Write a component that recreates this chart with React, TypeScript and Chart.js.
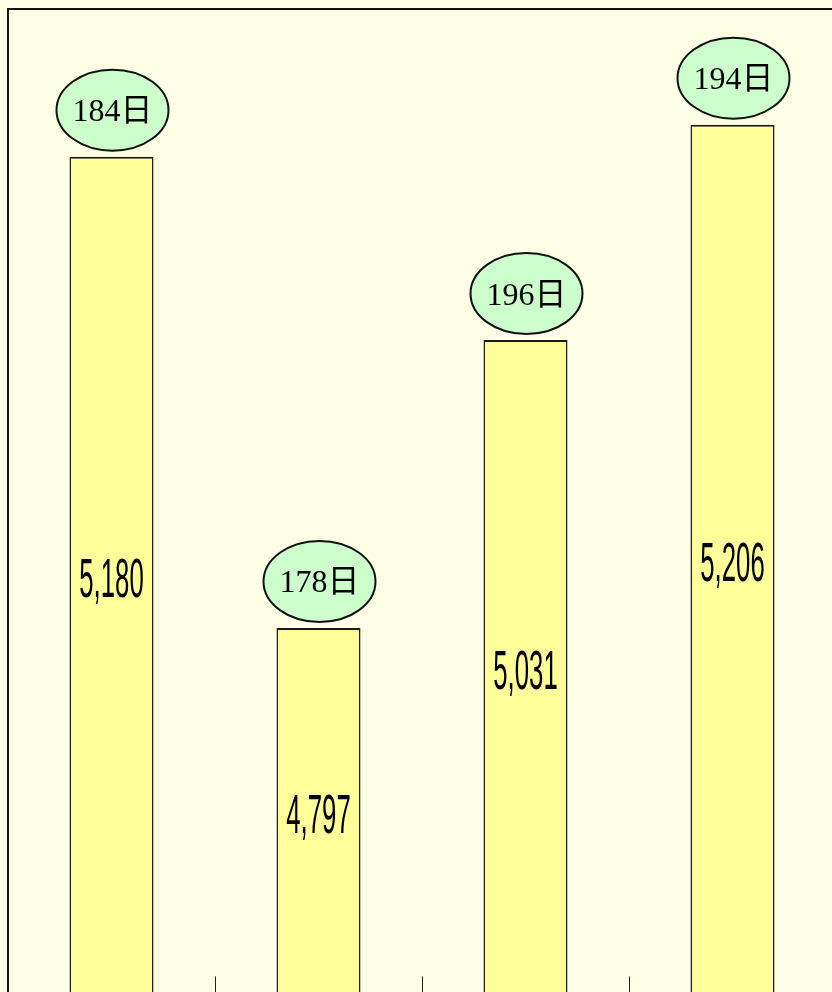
import React, { useEffect, useRef } from "react";
import { Chart, registerables } from "chart.js";

Chart.register(...registerables);

const categories = ["1", "2", "3", "4"];
const visitors = [5180, 4797, 5031, 5206];
const days = [184, 178, 196, 194];
const axisMin = 4500;
const axisMax = 5300;

const BG = "#FFFFE6";

const fmt = (v: number) => String(v).replace(/\B(?=(\d{3})+(?!\d))/g, ",");

const framePlugin = {
  id: "frame",
  beforeDraw(chart: any) {
    const { ctx, width, height } = chart;
    ctx.save();
    ctx.fillStyle = BG;
    ctx.fillRect(0, 0, width, height);
    ctx.restore();
  },
  afterDraw(chart: any) {
    const { ctx, chartArea } = chart;
    ctx.save();
    ctx.strokeStyle = "#111";
    ctx.lineWidth = 2;
    ctx.strokeRect(chartArea.left, chartArea.top, chartArea.right - chartArea.left, chartArea.bottom - chartArea.top);
    ctx.restore();
  },
};

const ticksPlugin = {
  id: "innerTicks",
  afterDatasetsDraw(chart: any) {
    const { ctx, chartArea } = chart;
    const xs = chart.scales.x;
    ctx.save();
    ctx.strokeStyle = "#222";
    ctx.lineWidth = 1;
    for (let i = 0; i < categories.length - 1; i++) {
      const px = Math.round((xs.getPixelForValue(i) + xs.getPixelForValue(i + 1)) / 2) + 0.5;
      ctx.beginPath();
      ctx.moveTo(px, chartArea.bottom - 17);
      ctx.lineTo(px, chartArea.bottom);
      ctx.stroke();
    }
    ctx.restore();
  },
};

const labelPlugin = {
  id: "barLabels",
  afterDatasetsDraw(chart: any) {
    const { ctx } = chart;
    const meta = chart.getDatasetMeta(0);
    const ys = chart.scales.y;
    const bottom = ys.getPixelForValue(axisMin);
    meta.data.forEach((bar: any, i: number) => {
      const x = bar.x;
      const y = bar.y;
      const mid = (y + bottom) / 2;
      // value label inside bar (condensed)
      ctx.save();
      ctx.translate(x, mid + 22);
      ctx.scale(0.46, 1);
      ctx.font = '56px "Liberation Sans", Arial, sans-serif';
      ctx.fillStyle = "#000";
      ctx.textAlign = "center";
      ctx.textBaseline = "alphabetic";
      ctx.fillText(fmt(visitors[i]), 0, 0);
      ctx.restore();

      // ellipse with days
      const rx = 56;
      const ry = 40.5;
      const cy = y - 6 - ry;
      ctx.save();
      ctx.beginPath();
      ctx.ellipse(x + 1, cy, rx, ry, 0, 0, Math.PI * 2);
      ctx.fillStyle = "#CCFFCC";
      ctx.fill();
      ctx.lineWidth = 2;
      ctx.strokeStyle = "#111";
      ctx.stroke();
      ctx.font = '32px "Liberation Serif", "Noto Sans CJK JP", serif';
      ctx.fillStyle = "#000";
      ctx.textAlign = "center";
      ctx.textBaseline = "alphabetic";
      ctx.fillText(days[i] + "日", x + 1, cy + 11);
      ctx.restore();
    });
  },
};

export default function App() {
  const ref = useRef<HTMLCanvasElement | null>(null);
  useEffect(() => {
    document.documentElement.style.overflow = "hidden";
    document.documentElement.style.background = BG;
    document.body.style.margin = "0";
    document.body.style.background = BG;
    if (!ref.current) return;
    const chart = new Chart(ref.current, {
      type: "bar",
      data: {
        labels: categories,
        datasets: [
          {
            data: visitors,
            backgroundColor: "#FFFF99",
            borderColor: "#1a1a1a",
            borderWidth: { top: 2, left: 1.5, right: 1.5, bottom: 0 },
            borderSkipped: false,
            barPercentage: 0.406,
            categoryPercentage: 1,
          },
        ],
      },
      options: {
        animation: false,
        responsive: false,
        devicePixelRatio: 1,
        layout: { padding: { left: 8, top: 9, right: 4, bottom: 6.6 } },
        plugins: { legend: { display: false }, tooltip: { enabled: false } },
        scales: {
          x: { display: false, offset: true },
          y: { display: false, min: axisMin, max: axisMax },
        },
      },
      plugins: [framePlugin, ticksPlugin, labelPlugin],
    });
    return () => chart.destroy();
  }, []);
  return (
    <div style={{ position: "relative", width: 840, height: 1000 }}>
      <canvas ref={ref} width={840} height={1000} style={{ display: "block", width: 840, height: 1000 }} />
    </div>
  );
}
